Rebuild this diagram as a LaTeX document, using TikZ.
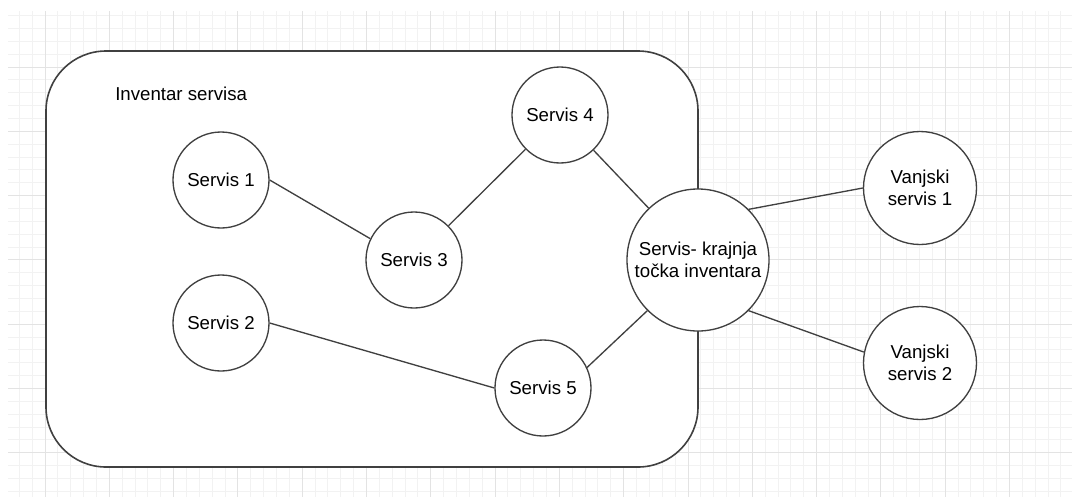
\documentclass[tikz,border=0pt]{standalone}
\usepackage{fontspec}
\setmainfont{Liberation Sans}
\begin{document}
\begin{tikzpicture}[x=0.75pt,y=-0.75pt,
  every node/.style={font=\fontsize{14}{16.5}\selectfont},
  svc/.style={circle,draw=black!75,line width=1pt,fill=white,inner sep=0pt,minimum size=72pt,align=center},
  link/.style={draw=black!75,line width=1pt},
  minorline/.style={black!5,line width=0.75pt},
  majorline/.style={black!11,line width=0.75pt}]
\useasboundingbox (0,0) rectangle (1072,497);
% grid
\begin{scope}
\clip (8,11) rectangle (1072,497);
\foreach \i in {0,...,82}
  \draw[minorline] ({6.42+12.86*\i},11) -- ({6.42+12.86*\i},497);
\foreach \j in {0,...,38}
  \draw[minorline] (8,{2.7+12.86*\j}) -- (1072,{2.7+12.86*\j});
\foreach \i in {0,...,15}
  \draw[majorline] ({45+64.3*\i},11) -- ({45+64.3*\i},497);
\foreach \j in {0,...,6}
  \draw[majorline] (8,{67+64.3*\j}) -- (1072,{67+64.3*\j});
\end{scope}
% inventar
\draw[fill=white,draw=black!75,line width=1.2pt,rounded corners=45pt] (46,51) rectangle (698,467);
\node[anchor=west,inner sep=0pt] (inv) at (115,94) {Inventar servisa};
\node[svc] (s1) at (221,180) {Servis 1};
\node[svc] (s2) at (221,323) {Servis 2};
\node[svc] (s3) at (414,260) {Servis 3};
\node[svc] (s4) at (560,115) {Servis 4};
\node[svc] (s5) at (543,388) {Servis 5};
\node[svc,minimum size=106.5pt] (kt) at (698,260) {Servis- krajnja\\točka inventara};
\node[svc,minimum size=84.75pt] (v1) at (920,188) {Vanjski\\servis 1};
\node[svc,minimum size=84.75pt] (v2) at (920,363) {Vanjski\\servis 2};
% veze
\draw[link] (s1.east) -- (s3.154);
\draw[link] (s3) -- (s4);
\draw[link] (s4) -- (kt);
\draw[link] (s2.east) -- (s5.west);
\draw[link] (s5.25) -- (kt.225);
\draw[link] (kt.45) -- (v1.west);
\draw[link] (kt.-45) -- (v2.169);
\end{tikzpicture}
\end{document}
